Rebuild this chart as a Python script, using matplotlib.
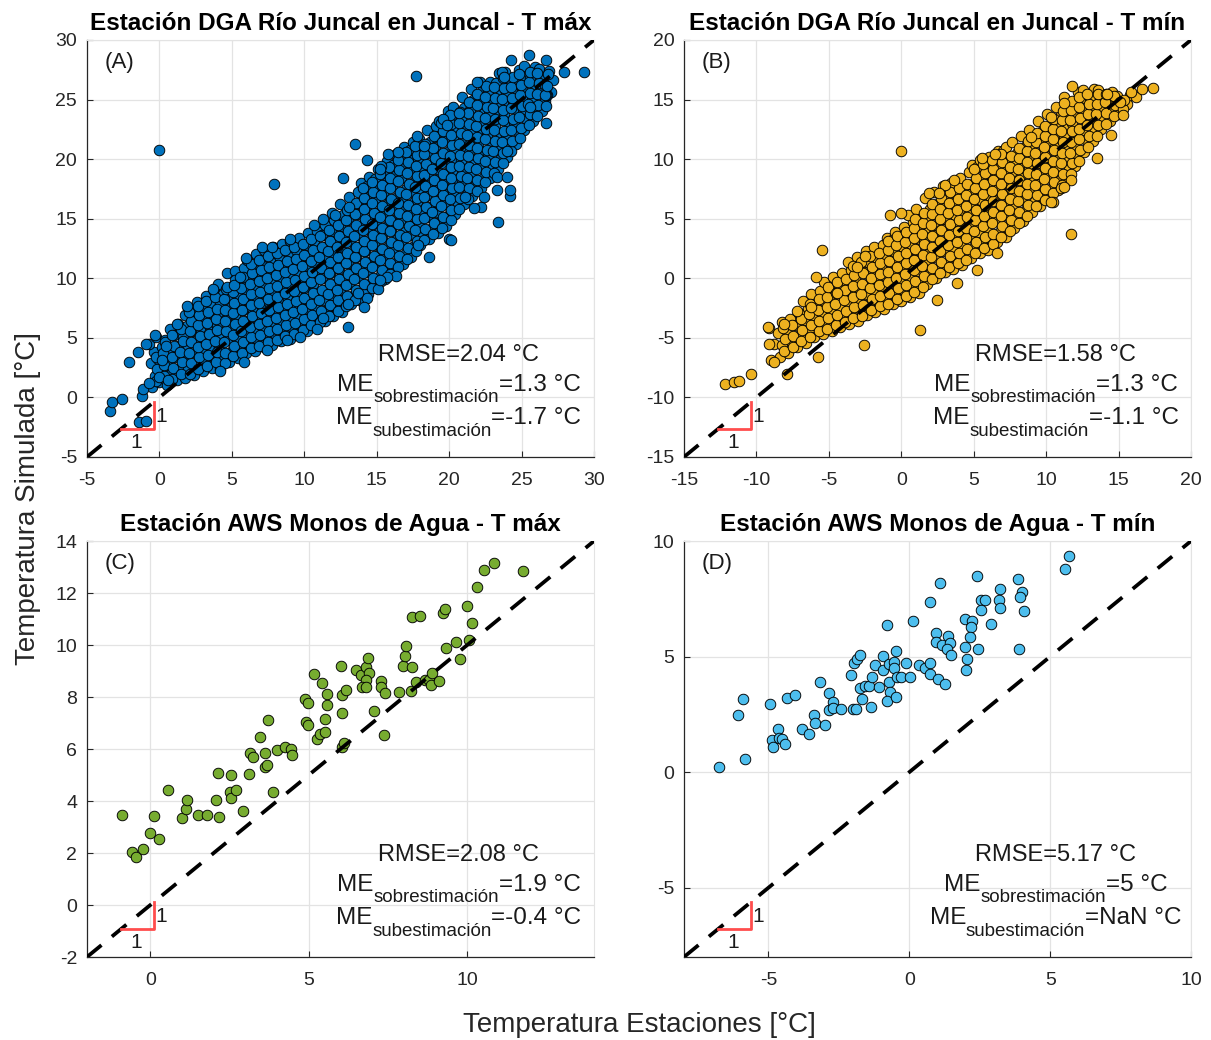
import matplotlib
matplotlib.use('Agg')
import matplotlib.pyplot as plt
from matplotlib.transforms import offset_copy

plt.rcParams['font.family'] = ['Liberation Sans', 'DejaVu Sans']
plt.rcParams['axes.unicode_minus'] = False

# ---- (A) DGA Juncal, T max: observado vs simulado ----
a_obs = [
    -0.5, -0.3, -0.6, -0.35, -0.7,
    0.0, 0.2, -0.1, 0.15, -0.2,
    0.6, 0.8, 0.5, 0.75, 0.4, 0.7,
    1.2, 1.4, 1.1, 1.35, 1.0, 1.3,
    1.8, 2.0, 1.7, 1.95, 1.6, 1.9, 1.75, 2.0,
    2.4, 2.6, 2.3, 2.55, 2.2, 2.5, 2.35, 2.6,
    3.0, 3.2, 2.9, 3.15, 2.8, 3.1, 2.95, 3.2,
    3.6, 3.8, 3.5, 3.75, 3.4, 3.7, 3.55, 3.8,
    4.2, 4.4, 4.1, 4.35, 4.0, 4.3, 4.15, 4.4, 4.05,
    4.8, 5.0, 4.7, 4.95, 4.6, 4.9, 4.75, 5.0, 4.65,
    5.4, 5.6, 5.3, 5.55, 5.2, 5.5, 5.35, 5.6, 5.25,
    6.0, 6.2, 5.9, 6.15, 5.8, 6.1, 5.95, 6.2, 5.85, 6.05,
    6.6, 6.8, 6.5, 6.75, 6.4, 6.7, 6.55, 6.8, 6.45, 6.65,
    7.2, 7.4, 7.1, 7.35, 7.0, 7.3, 7.15, 7.4, 7.05, 7.25,
    7.8, 8.0, 7.7, 7.95, 7.6, 7.9, 7.75, 8.0, 7.65, 7.85,
    8.4, 8.6, 8.3, 8.55, 8.2, 8.5, 8.35, 8.6, 8.25, 8.45,
    9.0, 9.2, 8.9, 9.15, 8.8, 9.1, 8.95, 9.2, 8.85, 9.05,
    9.6, 9.8, 9.5, 9.75, 9.4, 9.7, 9.55, 9.8, 9.45, 9.65,
    10.2, 10.4, 10.1, 10.35, 10.0, 10.3, 10.15, 10.4, 10.05, 10.25,
    10.8, 11.0, 10.7, 10.95, 10.6, 10.9, 10.75, 11.0, 10.65, 10.85, 10.7,
    11.4, 11.6, 11.3, 11.55, 11.2, 11.5, 11.35, 11.6, 11.25, 11.45, 11.3,
    12.0, 12.2, 11.9, 12.15, 11.8, 12.1, 11.95, 12.2, 11.85, 12.05, 11.9,
    12.6, 12.8, 12.5, 12.75, 12.4, 12.7, 12.55, 12.8, 12.45, 12.65, 12.5,
    13.2, 13.4, 13.1, 13.35, 13.0, 13.3, 13.15, 13.4, 13.05, 13.25, 13.1,
    13.8, 14.0, 13.7, 13.95, 13.6, 13.9, 13.75, 14.0, 13.65, 13.85, 13.7, 13.9,
    14.4, 14.6, 14.3, 14.55, 14.2, 14.5, 14.35, 14.6, 14.25, 14.45, 14.3, 14.5,
    15.0, 15.2, 14.9, 15.15, 14.8, 15.1, 14.95, 15.2, 14.85, 15.05, 14.9, 15.1,
    15.6, 15.8, 15.5, 15.75, 15.4, 15.7, 15.55, 15.8, 15.45, 15.65, 15.5, 15.7,
    16.2, 16.4, 16.1, 16.35, 16.0, 16.3, 16.15, 16.4, 16.05, 16.25, 16.1, 16.3,
    16.8, 17.0, 16.7, 16.95, 16.6, 16.9, 16.75, 17.0, 16.65, 16.85, 16.7, 16.9,
    17.4, 17.6, 17.3, 17.55, 17.2, 17.5, 17.35, 17.6, 17.25, 17.45, 17.3, 17.5,
    18.0, 18.2, 17.9, 18.15, 17.8, 18.1, 17.95, 18.2, 17.85, 18.05, 17.9,
    18.6, 18.8, 18.5, 18.75, 18.4, 18.7, 18.55, 18.8, 18.45, 18.65, 18.5,
    19.2, 19.4, 19.1, 19.35, 19.0, 19.3, 19.15, 19.4, 19.05, 19.25, 19.1, 19.3,
    19.8, 20.0, 19.7, 19.95, 19.6, 19.9, 19.75, 20.0, 19.65, 19.85, 19.7, 19.9,
    20.4, 20.6, 20.3, 20.55, 20.2, 20.5, 20.35, 20.6, 20.25, 20.45, 20.3,
    21.0, 21.2, 20.9, 21.15, 20.8, 21.1, 20.95, 21.2, 20.85, 21.05, 20.9,
    21.6, 21.8, 21.5, 21.75, 21.4, 21.7, 21.55, 21.8, 21.45, 21.65, 21.5,
    22.2, 22.4, 22.1, 22.35, 22.0, 22.3, 22.15, 22.4, 22.05, 22.25, 22.1,
    22.8, 23.0, 22.7, 22.95, 22.6, 22.9, 22.75, 23.0, 22.65, 22.85,
    23.4, 23.6, 23.3, 23.55, 23.2, 23.5, 23.35, 23.6, 23.25, 23.45,
    24.0, 24.2, 23.9, 24.15, 23.8, 24.1, 23.95, 24.2, 23.85,
    24.6, 24.8, 24.5, 24.75, 24.4, 24.7, 24.55, 24.8,
    25.2, 25.4, 25.1, 25.35, 25.0, 25.3, 25.15,
    25.8, 26.0, 25.7, 25.95, 25.6, 25.9,
    26.4, 26.6, 26.3, 26.55, 26.2,
    27.0, 27.2, 26.9,
    # columnas intermedias
    -0.2, -0.15, -0.25,
    0.3, 0.35, 0.25, 0.4,
    0.9, 0.95, 0.85, 1.0, 0.9,
    1.5, 1.55, 1.45, 1.6, 1.5,
    2.1, 2.15, 2.05, 2.2, 2.1, 2.15, 2.05,
    2.7, 2.75, 2.65, 2.8, 2.7, 2.75, 2.65,
    3.3, 3.35, 3.25, 3.4, 3.3, 3.35, 3.25,
    3.9, 3.95, 3.85, 4.0, 3.9, 3.95, 3.85,
    4.5, 4.55, 4.45, 4.6, 4.5, 4.55, 4.45, 4.6,
    5.1, 5.15, 5.05, 5.2, 5.1, 5.15, 5.05, 5.2,
    5.7, 5.75, 5.65, 5.8, 5.7, 5.75, 5.65, 5.8,
    6.3, 6.35, 6.25, 6.4, 6.3, 6.35, 6.25, 6.4, 6.3,
    6.9, 6.95, 6.85, 7.0, 6.9, 6.95, 6.85, 7.0, 6.9,
    7.5, 7.55, 7.45, 7.6, 7.5, 7.55, 7.45, 7.6, 7.5,
    8.1, 8.15, 8.05, 8.2, 8.1, 8.15, 8.05, 8.2, 8.1,
    8.7, 8.75, 8.65, 8.8, 8.7, 8.75, 8.65, 8.8, 8.7,
    9.3, 9.35, 9.25, 9.4, 9.3, 9.35, 9.25, 9.4, 9.3,
    9.9, 9.95, 9.85, 10.0, 9.9, 9.95, 9.85, 10.0, 9.9,
    10.5, 10.55, 10.45, 10.6, 10.5, 10.55, 10.45, 10.6, 10.5,
    11.1, 11.15, 11.05, 11.2, 11.1, 11.15, 11.05, 11.2, 11.1,
    11.7, 11.75, 11.65, 11.8, 11.7, 11.75, 11.65, 11.8, 11.7,
    12.3, 12.35, 12.25, 12.4, 12.3, 12.35, 12.25, 12.4, 12.3,
    12.9, 12.95, 12.85, 13.0, 12.9, 12.95, 12.85, 13.0, 12.9, 12.95,
    13.5, 13.55, 13.45, 13.6, 13.5, 13.55, 13.45, 13.6, 13.5, 13.55,
    14.1, 14.15, 14.05, 14.2, 14.1, 14.15, 14.05, 14.2, 14.1, 14.15, 14.05,
    14.7, 14.75, 14.65, 14.8, 14.7, 14.75, 14.65, 14.8, 14.7, 14.75, 14.65,
    15.3, 15.35, 15.25, 15.4, 15.3, 15.35, 15.25, 15.4, 15.3, 15.35, 15.25,
    15.9, 15.95, 15.85, 16.0, 15.9, 15.95, 15.85, 16.0, 15.9, 15.95, 15.85,
    16.5, 16.55, 16.45, 16.6, 16.5, 16.55, 16.45, 16.6, 16.5, 16.55, 16.45,
    17.1, 17.15, 17.05, 17.2, 17.1, 17.15, 17.05, 17.2, 17.1, 17.15, 17.05,
    17.7, 17.75, 17.65, 17.8, 17.7, 17.75, 17.65, 17.8, 17.7, 17.75, 17.65,
    18.3, 18.35, 18.25, 18.4, 18.3, 18.35, 18.25, 18.4, 18.3, 18.35,
    18.9, 18.95, 18.85, 19.0, 18.9, 18.95, 18.85, 19.0, 18.9, 18.95,
    19.5, 19.55, 19.45, 19.6, 19.5, 19.55, 19.45, 19.6, 19.5, 19.55, 19.45,
    20.1, 20.15, 20.05, 20.2, 20.1, 20.15, 20.05, 20.2, 20.1, 20.15, 20.05,
    20.7, 20.75, 20.65, 20.8, 20.7, 20.75, 20.65, 20.8, 20.7, 20.75,
    21.3, 21.35, 21.25, 21.4, 21.3, 21.35, 21.25, 21.4, 21.3, 21.35,
    21.9, 21.95, 21.85, 22.0, 21.9, 21.95, 21.85, 22.0, 21.9, 21.95,
    22.5, 22.55, 22.45, 22.6, 22.5, 22.55, 22.45, 22.6, 22.5, 22.55,
    23.1, 23.15, 23.05, 23.2, 23.1, 23.15, 23.05, 23.2, 23.1,
    23.7, 23.75, 23.65, 23.8, 23.7, 23.75, 23.65, 23.8, 23.7,
    24.3, 24.35, 24.25, 24.4, 24.3, 24.35, 24.25, 24.4,
    24.9, 24.95, 24.85, 25.0, 24.9, 24.95, 24.85,
    25.5, 25.55, 25.45, 25.6, 25.5, 25.55,
    26.1, 26.15, 26.05, 26.2, 26.1,
    26.7, 26.75, 26.65, 26.8,
    # puntos dispersos
    0.0, 7.9, 17.7, 13.5, 12.7, 23.35, 20.0, 29.3, 27.9, 26.7,
    24.2, 24.2, 23.3, 24.0, 23.3, 24.0, 25.5, 24.3, 26.7, 21.9,
    19.6, 17.8, 15.8, 16.5, 14.3, 15.3, 9.0, 7.1, 7.8, 26.7,
    -3.4, -3.3, -2.6, -1.4, -0.9, -1.2, -1.1, -0.7, -0.05, 0.5,
    0.6, -2.1, -1.5, -0.9, -0.3, 0.2, 0.45, 1.2, 1.9, 3.7,
    6.0, 4.2, 7.4, 10.9, 13.0, 15.1, 16.3, 18.6, 20.1,
    15.73, 14.31, 13.73, 13.04, 11.27, 17.87, 22.2, 15.23, 13.11, 12.12,
    4.66, 5.12, 5.58, 9.73, 8.8, 5.81, 15.25, 14.1, 18.24, 19.85,
    20.66, 23.65, 23.76, 22.4, 21.7, 21.1, 26.64, 26.75, 25.6,
]
a_sim = [
    0.9, 1.8, 2.9, 3.8, 4.5,
    1.3, 2.3, 3.2, 4.2, 5.1,
    1.1, 2.0, 2.9, 3.9, 4.8, 5.7,
    1.5, 2.5, 3.4, 4.3, 5.2, 6.2,
    1.6, 2.4, 3.3, 4.2, 5.1, 6.0, 6.9, 7.5,
    1.9, 2.9, 3.8, 4.7, 5.6, 6.5, 7.4, 8.0,
    2.2, 3.1, 4.0, 4.9, 5.8, 6.7, 7.6, 8.5,
    2.5, 3.4, 4.3, 5.2, 6.1, 7.0, 7.9, 8.9,
    2.4, 3.3, 4.2, 5.1, 6.0, 6.9, 7.8, 8.7, 9.5,
    3.0, 3.9, 4.8, 5.7, 6.6, 7.5, 8.4, 9.3, 10.4,
    3.3, 4.2, 5.1, 6.0, 6.9, 7.8, 8.7, 9.6, 10.6,
    3.7, 4.6, 5.5, 6.4, 7.3, 8.2, 9.1, 10.0, 10.9, 11.5,
    3.9, 4.8, 5.7, 6.6, 7.5, 8.4, 9.3, 10.2, 11.1, 12.0,
    4.2, 5.1, 6.0, 6.9, 7.8, 8.7, 9.6, 10.5, 11.4, 12.4,
    4.4, 5.3, 6.2, 7.1, 8.0, 8.9, 9.8, 10.7, 11.6, 12.6,
    4.7, 5.6, 6.5, 7.4, 8.3, 9.2, 10.1, 11.0, 11.9, 12.9,
    4.9, 5.8, 6.7, 7.6, 8.5, 9.4, 10.3, 11.2, 12.1, 13.1,
    5.2, 6.1, 7.0, 7.9, 8.8, 9.7, 10.6, 11.5, 12.4, 13.4,
    5.6, 6.5, 7.4, 8.3, 9.2, 10.1, 11.0, 11.9, 12.8, 13.8,
    5.9, 6.8, 7.7, 8.6, 9.5, 10.4, 11.3, 12.2, 13.1, 14.0, 14.5,
    6.4, 7.3, 8.2, 9.1, 10.0, 10.9, 11.8, 12.7, 13.6, 14.5, 15.0,
    6.8, 7.7, 8.6, 9.5, 10.4, 11.3, 12.2, 13.1, 14.0, 14.9, 15.5,
    7.2, 8.1, 9.0, 9.9, 10.8, 11.7, 12.6, 13.5, 14.4, 15.3, 16.2,
    7.8, 8.6, 9.5, 10.4, 11.3, 12.2, 13.1, 14.0, 14.9, 15.8, 16.8,
    8.2, 9.1, 10.0, 10.9, 11.8, 12.7, 13.6, 14.5, 15.4, 16.3, 17.2, 18.0,
    8.7, 9.6, 10.5, 11.4, 12.3, 13.2, 14.1, 15.0, 15.9, 16.8, 17.7, 18.5,
    9.3, 10.2, 11.1, 12.0, 12.9, 13.8, 14.7, 15.6, 16.5, 17.4, 18.3, 19.2,
    9.9, 10.8, 11.7, 12.6, 13.5, 14.4, 15.3, 16.2, 17.1, 18.0, 18.9, 19.8,
    10.5, 11.4, 12.3, 13.2, 14.1, 15.0, 15.9, 16.8, 17.7, 18.6, 19.5, 20.4,
    11.2, 12.1, 13.0, 13.9, 14.8, 15.7, 16.6, 17.5, 18.4, 19.3, 20.2, 21.0,
    11.8, 12.7, 13.6, 14.5, 15.4, 16.3, 17.2, 18.1, 19.0, 19.9, 20.8, 21.4,
    12.8, 13.7, 14.6, 15.5, 16.4, 17.3, 18.2, 19.1, 20.0, 20.9, 21.7,
    13.3, 14.2, 15.1, 16.0, 16.9, 17.8, 18.7, 19.6, 20.5, 21.4, 22.4,
    13.8, 14.7, 15.6, 16.5, 17.4, 18.3, 19.2, 20.1, 21.0, 21.9, 22.8, 23.2,
    14.4, 15.3, 16.2, 17.1, 18.0, 18.9, 19.8, 20.7, 21.6, 22.5, 23.4, 24.0,
    15.4, 16.3, 17.2, 18.1, 19.0, 19.9, 20.8, 21.7, 22.6, 23.5, 24.4,
    16.2, 17.1, 18.0, 18.9, 19.8, 20.7, 21.6, 22.5, 23.4, 24.3, 25.2,
    16.9, 17.8, 18.7, 19.6, 20.5, 21.4, 22.3, 23.2, 24.1, 25.0, 25.9,
    17.6, 18.5, 19.4, 20.3, 21.2, 22.1, 23.0, 23.9, 24.8, 25.7, 26.5,
    18.4, 19.3, 20.2, 21.1, 22.0, 22.9, 23.8, 24.7, 25.6, 26.5,
    19.2, 20.1, 21.0, 21.9, 22.8, 23.7, 24.6, 25.5, 26.4, 27.2,
    20.2, 21.1, 22.0, 22.9, 23.8, 24.7, 25.6, 26.5, 27.3,
    21.3, 22.2, 23.1, 24.0, 24.9, 25.8, 26.7, 27.5,
    22.4, 23.3, 24.2, 25.1, 26.0, 26.9, 27.8,
    23.2, 24.1, 25.0, 25.9, 26.8, 27.7,
    24.0, 24.9, 25.8, 26.7, 27.6,
    25.6, 26.6, 27.4,
    # columnas intermedias
    1.4, 2.4, 3.4,
    1.8, 2.75, 3.7, 4.65,
    1.55, 2.45, 3.4, 4.35, 5.25,
    2.0, 2.95, 3.85, 4.75, 5.7,
    2.0, 2.85, 3.75, 4.65, 5.55, 6.45, 7.2,
    2.4, 3.35, 4.25, 5.15, 6.05, 6.95, 7.7,
    2.65, 3.55, 4.45, 5.35, 6.25, 7.15, 8.05,
    2.95, 3.85, 4.75, 5.65, 6.55, 7.45, 8.4,
    2.85, 3.75, 4.65, 5.55, 6.45, 7.35, 8.25, 9.1,
    3.45, 4.35, 5.25, 6.15, 7.05, 7.95, 8.85, 9.85,
    3.75, 4.65, 5.55, 6.45, 7.35, 8.25, 9.15, 10.1,
    4.15, 5.05, 5.95, 6.85, 7.75, 8.65, 9.55, 10.45, 11.2,
    4.35, 5.25, 6.15, 7.05, 7.95, 8.85, 9.75, 10.65, 11.55,
    4.65, 5.55, 6.45, 7.35, 8.25, 9.15, 10.05, 10.95, 11.9,
    4.85, 5.75, 6.65, 7.55, 8.45, 9.35, 10.25, 11.15, 12.1,
    5.15, 6.05, 6.95, 7.85, 8.75, 9.65, 10.55, 11.45, 12.4,
    5.35, 6.25, 7.15, 8.05, 8.95, 9.85, 10.75, 11.65, 12.6,
    5.65, 6.55, 7.45, 8.35, 9.25, 10.15, 11.05, 11.95, 12.9,
    6.05, 6.95, 7.85, 8.75, 9.65, 10.55, 11.45, 12.35, 13.3,
    6.35, 7.25, 8.15, 9.05, 9.95, 10.85, 11.75, 12.65, 13.55,
    6.85, 7.75, 8.65, 9.55, 10.45, 11.35, 12.25, 13.15, 14.05,
    7.25, 8.15, 9.05, 9.95, 10.85, 11.75, 12.65, 13.55, 14.45,
    7.65, 8.55, 9.45, 10.35, 11.25, 12.15, 13.05, 13.95, 14.85, 15.75,
    8.2, 9.05, 9.95, 10.85, 11.75, 12.65, 13.55, 14.45, 15.35, 16.3,
    8.65, 9.55, 10.45, 11.35, 12.25, 13.15, 14.05, 14.95, 15.85, 16.75, 17.6,
    9.15, 10.05, 10.95, 11.85, 12.75, 13.65, 14.55, 15.45, 16.35, 17.25, 18.1,
    9.75, 10.65, 11.55, 12.45, 13.35, 14.25, 15.15, 16.05, 16.95, 17.85, 18.75,
    10.35, 11.25, 12.15, 13.05, 13.95, 14.85, 15.75, 16.65, 17.55, 18.45, 19.35,
    10.95, 11.85, 12.75, 13.65, 14.55, 15.45, 16.35, 17.25, 18.15, 19.05, 19.95,
    11.65, 12.55, 13.45, 14.35, 15.25, 16.15, 17.05, 17.95, 18.85, 19.75, 20.6,
    12.25, 13.15, 14.05, 14.95, 15.85, 16.75, 17.65, 18.55, 19.45, 20.35, 21.1,
    13.25, 14.15, 15.05, 15.95, 16.85, 17.75, 18.65, 19.55, 20.45, 21.3,
    13.75, 14.65, 15.55, 16.45, 17.35, 18.25, 19.15, 20.05, 20.95, 21.9,
    14.25, 15.15, 16.05, 16.95, 17.85, 18.75, 19.65, 20.55, 21.45, 22.35, 23.0,
    14.85, 15.75, 16.65, 17.55, 18.45, 19.35, 20.25, 21.15, 22.05, 22.95, 23.7,
    15.85, 16.75, 17.65, 18.55, 19.45, 20.35, 21.25, 22.15, 23.05, 23.95,
    16.65, 17.55, 18.45, 19.35, 20.25, 21.15, 22.05, 22.95, 23.85, 24.75,
    17.35, 18.25, 19.15, 20.05, 20.95, 21.85, 22.75, 23.65, 24.55, 25.45,
    18.05, 18.95, 19.85, 20.75, 21.65, 22.55, 23.45, 24.35, 25.25, 26.1,
    18.85, 19.75, 20.65, 21.55, 22.45, 23.35, 24.25, 25.15, 26.05,
    19.65, 20.55, 21.45, 22.35, 23.25, 24.15, 25.05, 25.95, 26.8,
    20.65, 21.55, 22.45, 23.35, 24.25, 25.15, 26.05, 26.9,
    21.75, 22.65, 23.55, 24.45, 25.35, 26.25, 27.1,
    22.85, 23.75, 24.65, 25.55, 26.45, 27.35,
    23.65, 24.55, 25.45, 26.35, 27.25,
    24.45, 25.35, 26.25, 27.15,
    20.8, 17.9, 27.0, 21.3, 18.4, 14.7, 13.3, 27.3, 27.3, 23.0,
    16.9, 17.4, 18.5, 18.5, 17.4, 20.7, 28.7, 28.3, 28.3, 26.5,
    23.4, 21.9, 20.4, 20.6, 19.9, 19.4, 13.3, 12.6, 12.6, 25.4,
    -1.1, -0.4, -0.1, -2.1, -2.0, 0.1, 0.7, 1.2, 1.7, 1.0,
    1.5, 3.0, 3.8, 4.5, 5.2, 3.1, 4.3, 6.2, 7.7, 9.1,
    11.7, 2.2, 4.0, 5.7, 5.9, 9.1, 10.2, 11.8, 13.2,
    10.13, 8.37, 8.74, 7.84, 6.64, 12.79, 15.96, 19.2, 16.0, 15.31,
    9.29, 9.43, 10.13, 5.1, 4.8, 3.0, 9.85, 7.6, 21.1, 22.9,
    23.84, 27.3, 26.9, 16.85, 15.9, 16.85, 25.4, 26.1, 24.4,
]

# ---- (B) DGA Juncal, T min ----
b_obs = [
    -9.0, -8.8, -9.1,
    -8.4, -8.2, -8.5, -8.25,
    -7.8, -7.6, -7.9, -7.65,
    -7.2, -7.0, -7.3, -7.05,
    -6.6, -6.4, -6.7, -6.45, -6.8,
    -6.0, -5.8, -6.1, -5.85, -6.2,
    -5.4, -5.2, -5.5, -5.25, -5.6, -5.3,
    -4.8, -4.6, -4.9, -4.65, -5.0, -4.7,
    -4.2, -4.0, -4.3, -4.05, -4.4, -4.1,
    -3.6, -3.4, -3.7, -3.45, -3.8, -3.5, -3.65,
    -3.0, -2.8, -3.1, -2.85, -3.2, -2.9, -3.05,
    -2.4, -2.2, -2.5, -2.25, -2.6, -2.3, -2.45,
    -1.8, -1.6, -1.9, -1.65, -2.0, -1.7, -1.85,
    -1.2, -1.0, -1.3, -1.05, -1.4, -1.1, -1.25, -1.0,
    -0.6, -0.4, -0.7, -0.45, -0.8, -0.5, -0.65, -0.4,
    0.0, 0.2, -0.1, 0.15, -0.2, 0.1, -0.05, 0.2,
    0.6, 0.8, 0.5, 0.75, 0.4, 0.7, 0.55, 0.8, 0.45,
    1.2, 1.4, 1.1, 1.35, 1.0, 1.3, 1.15, 1.4, 1.05,
    1.8, 2.0, 1.7, 1.95, 1.6, 1.9, 1.75, 2.0, 1.65,
    2.4, 2.6, 2.3, 2.55, 2.2, 2.5, 2.35, 2.6, 2.25,
    3.0, 3.2, 2.9, 3.15, 2.8, 3.1, 2.95, 3.2, 2.85,
    3.6, 3.8, 3.5, 3.75, 3.4, 3.7, 3.55, 3.8, 3.45,
    4.2, 4.4, 4.1, 4.35, 4.0, 4.3, 4.15, 4.4, 4.05,
    4.8, 5.0, 4.7, 4.95, 4.6, 4.9, 4.75, 5.0, 4.65, 4.85,
    5.4, 5.6, 5.3, 5.55, 5.2, 5.5, 5.35, 5.6, 5.25, 5.45,
    6.0, 6.2, 5.9, 6.15, 5.8, 6.1, 5.95, 6.2, 5.85, 6.05,
    6.6, 6.8, 6.5, 6.75, 6.4, 6.7, 6.55, 6.8, 6.45, 6.65,
    7.2, 7.4, 7.1, 7.35, 7.0, 7.3, 7.15, 7.4, 7.05, 7.25,
    7.8, 8.0, 7.7, 7.95, 7.6, 7.9, 7.75, 8.0, 7.65,
    8.4, 8.6, 8.3, 8.55, 8.2, 8.5, 8.35, 8.6, 8.25,
    9.0, 9.2, 8.9, 9.15, 8.8, 9.1, 8.95, 9.2, 8.85,
    9.6, 9.8, 9.5, 9.75, 9.4, 9.7, 9.55, 9.8, 9.45,
    10.2, 10.4, 10.1, 10.35, 10.0, 10.3, 10.15, 10.4, 10.05,
    10.8, 11.0, 10.7, 10.95, 10.6, 10.9, 10.75, 11.0, 10.65,
    11.4, 11.6, 11.3, 11.55, 11.2, 11.5, 11.35, 11.6, 11.25,
    12.0, 12.2, 11.9, 12.15, 11.8, 12.1, 11.95, 12.2,
    12.6, 12.8, 12.5, 12.75, 12.4, 12.7, 12.55,
    13.2, 13.4, 13.1, 13.35, 13.0, 13.3,
    13.8, 14.0, 13.7, 13.95, 13.6,
    14.4, 14.6, 14.3, 14.55,
    15.0, 15.2, 14.9,
    15.6, 15.8,
    16.2,
    # columnas intermedias
    -8.1, -8.05, -8.15,
    -7.5, -7.45, -7.55,
    -6.9, -6.85, -6.95,
    -6.3, -6.25, -6.35, -6.3,
    -5.7, -5.65, -5.75, -5.7,
    -5.1, -5.05, -5.15, -5.1, -5.05,
    -4.5, -4.45, -4.55, -4.5, -4.45,
    -3.9, -3.85, -3.95, -3.9, -3.85,
    -3.3, -3.25, -3.35, -3.3, -3.25, -3.35,
    -2.7, -2.65, -2.75, -2.7, -2.65, -2.75,
    -2.1, -2.05, -2.15, -2.1, -2.05, -2.15,
    -1.5, -1.45, -1.55, -1.5, -1.45, -1.55,
    -0.9, -0.85, -0.95, -0.9, -0.85, -0.95, -0.9,
    -0.3, -0.25, -0.35, -0.3, -0.25, -0.35, -0.3,
    0.3, 0.35, 0.25, 0.3, 0.35, 0.25, 0.3,
    0.9, 0.95, 0.85, 0.9, 0.95, 0.85, 0.9, 0.95,
    1.5, 1.55, 1.45, 1.5, 1.55, 1.45, 1.5, 1.55,
    2.1, 2.15, 2.05, 2.1, 2.15, 2.05, 2.1, 2.15,
    2.7, 2.75, 2.65, 2.7, 2.75, 2.65, 2.7, 2.75,
    3.3, 3.35, 3.25, 3.3, 3.35, 3.25, 3.3, 3.35,
    3.9, 3.95, 3.85, 3.9, 3.95, 3.85, 3.9, 3.95,
    4.5, 4.55, 4.45, 4.5, 4.55, 4.45, 4.5, 4.55,
    5.1, 5.15, 5.05, 5.1, 5.15, 5.05, 5.1, 5.15, 5.05,
    5.7, 5.75, 5.65, 5.7, 5.75, 5.65, 5.7, 5.75, 5.65,
    6.3, 6.35, 6.25, 6.3, 6.35, 6.25, 6.3, 6.35, 6.25,
    6.9, 6.95, 6.85, 6.9, 6.95, 6.85, 6.9, 6.95, 6.85,
    7.5, 7.55, 7.45, 7.5, 7.55, 7.45, 7.5, 7.55,
    8.1, 8.15, 8.05, 8.1, 8.15, 8.05, 8.1, 8.15,
    8.7, 8.75, 8.65, 8.7, 8.75, 8.65, 8.7, 8.75,
    9.3, 9.35, 9.25, 9.3, 9.35, 9.25, 9.3, 9.35,
    9.9, 9.95, 9.85, 9.9, 9.95, 9.85, 9.9, 9.95,
    10.5, 10.55, 10.45, 10.5, 10.55, 10.45, 10.5, 10.55,
    11.1, 11.15, 11.05, 11.1, 11.15, 11.05, 11.1, 11.15,
    11.7, 11.75, 11.65, 11.7, 11.75, 11.65, 11.7, 11.75,
    12.3, 12.35, 12.25, 12.3, 12.35, 12.25, 12.3,
    12.9, 12.95, 12.85, 12.9, 12.95, 12.85,
    13.5, 13.55, 13.45, 13.5, 13.55,
    14.1, 14.15, 14.05, 14.1,
    14.7, 14.75, 14.65,
    15.3, 15.35,
    # puntos dispersos
    0.0, 11.7, 13.5, 17.4, 16.6, -5.5, -0.8, 0.0, 6.5, 11.8,
    3.0, -12.2, -11.55, -11.2, -10.4, -5.9, -9.2, -9.1, -8.8, -7.9,
    -7.2, -5.75, 1.3, -2.6, -2.5, 14.45, 15.1, 15.3, 10.5,
    10.31, 11.0, 11.7, 11.23, 1.91, 2.6, 3.64, 5.59, 8.93, 10.31,
    11.23, 14.2, 15.83, -8.1, -6.26, -4.42, -3.03, 2.49, 3.87, 5.25,
    6.63,
]
b_sim = [
    -6.9, -5.5, -4.2,
    -6.6, -5.6, -4.6, -3.7,
    -6.3, -5.3, -4.4, -3.4,
    -5.8, -4.8, -3.9, -2.9,
    -5.4, -4.4, -3.5, -2.5, -1.9,
    -4.9, -4.0, -3.1, -2.2, -1.3,
    -4.7, -3.8, -2.9, -2.0, -1.1, -0.3,
    -4.4, -3.5, -2.6, -1.7, -0.8, 0.1,
    -4.1, -3.2, -2.3, -1.4, -0.5, 0.4,
    -3.8, -2.9, -2.0, -1.1, -0.2, 0.7, 1.4,
    -3.6, -2.7, -1.8, -0.9, 0.0, 0.9, 1.8,
    -3.1, -2.2, -1.3, -0.4, 0.5, 1.4, 2.3,
    -2.8, -1.9, -1.0, -0.1, 0.8, 1.7, 2.6,
    -2.6, -1.7, -0.8, 0.1, 1.0, 1.9, 2.8, 3.4,
    -2.2, -1.3, -0.4, 0.5, 1.4, 2.3, 3.2, 3.9,
    -1.9, -1.0, -0.1, 0.8, 1.7, 2.6, 3.5, 4.3,
    -1.6, -0.7, 0.2, 1.1, 2.0, 2.9, 3.8, 4.7, 5.3,
    -1.2, -0.3, 0.6, 1.5, 2.4, 3.3, 4.2, 5.1, 5.8,
    -0.5, 0.4, 1.3, 2.2, 3.1, 4.0, 4.9, 5.8, 6.7,
    0.0, 0.9, 1.8, 2.7, 3.6, 4.5, 5.4, 6.3, 7.2,
    0.5, 1.4, 2.3, 3.2, 4.1, 5.0, 5.9, 6.8, 7.7,
    0.8, 1.7, 2.6, 3.5, 4.4, 5.3, 6.2, 7.1, 8.0,
    1.1, 2.0, 2.9, 3.8, 4.7, 5.6, 6.5, 7.4, 8.4,
    1.7, 2.6, 3.5, 4.4, 5.3, 6.2, 7.1, 8.0, 8.9, 9.5,
    2.1, 3.0, 3.9, 4.8, 5.7, 6.6, 7.5, 8.4, 9.3, 9.9,
    2.4, 3.3, 4.2, 5.1, 6.0, 6.9, 7.8, 8.7, 9.6, 10.2,
    3.0, 3.9, 4.8, 5.7, 6.6, 7.5, 8.4, 9.3, 10.2, 10.7,
    3.5, 4.4, 5.3, 6.2, 7.1, 8.0, 8.9, 9.8, 10.7, 11.0,
    4.2, 5.1, 6.0, 6.9, 7.8, 8.7, 9.6, 10.5, 11.4,
    4.8, 5.7, 6.6, 7.5, 8.4, 9.3, 10.2, 11.1, 11.9,
    5.6, 6.5, 7.4, 8.3, 9.2, 10.1, 11.0, 11.9, 12.4,
    6.1, 7.0, 7.9, 8.8, 9.7, 10.6, 11.5, 12.4, 13.2,
    6.7, 7.6, 8.5, 9.4, 10.3, 11.2, 12.1, 13.0, 13.8,
    7.4, 8.3, 9.2, 10.1, 11.0, 11.9, 12.8, 13.7, 14.4,
    8.3, 9.2, 10.1, 11.0, 11.9, 12.8, 13.7, 14.6, 15.2,
    9.4, 10.3, 11.2, 12.1, 13.0, 13.9, 14.8, 15.6,
    10.6, 11.5, 12.4, 13.3, 14.2, 15.1, 15.8,
    11.5, 12.4, 13.3, 14.2, 15.1, 15.9,
    12.5, 13.4, 14.3, 15.2, 15.8,
    13.2, 14.1, 15.0, 15.6,
    13.8, 14.6, 15.3,
    14.6, 15.4,
    15.2,
    # columnas intermedias
    -6.1, -5.1, -4.15,
    -5.8, -4.85, -3.9,
    -5.3, -4.35, -3.4,
    -4.9, -3.95, -3.0, -2.2,
    -4.45, -3.55, -2.65, -1.75,
    -4.25, -3.35, -2.45, -1.55, -0.7,
    -3.95, -3.05, -2.15, -1.25, -0.35,
    -3.65, -2.75, -1.85, -0.95, -0.05,
    -3.35, -2.45, -1.55, -0.65, 0.25, 1.05,
    -3.15, -2.25, -1.35, -0.45, 0.45, 1.35,
    -2.65, -1.75, -0.85, 0.05, 0.95, 1.85,
    -2.35, -1.45, -0.55, 0.35, 1.25, 2.15,
    -2.15, -1.25, -0.35, 0.55, 1.45, 2.35, 3.1,
    -1.75, -0.85, 0.05, 0.95, 1.85, 2.75, 3.55,
    -1.45, -0.55, 0.35, 1.25, 2.15, 3.05, 3.9,
    -1.15, -0.25, 0.65, 1.55, 2.45, 3.35, 4.25, 5.0,
    -0.75, 0.15, 1.05, 1.95, 2.85, 3.75, 4.65, 5.45,
    -0.05, 0.85, 1.75, 2.65, 3.55, 4.45, 5.35, 6.25,
    0.45, 1.35, 2.25, 3.15, 4.05, 4.95, 5.85, 6.75,
    0.95, 1.85, 2.75, 3.65, 4.55, 5.45, 6.35, 7.25,
    1.25, 2.15, 3.05, 3.95, 4.85, 5.75, 6.65, 7.55,
    1.55, 2.45, 3.35, 4.25, 5.15, 6.05, 6.95, 7.9,
    2.15, 3.05, 3.95, 4.85, 5.75, 6.65, 7.55, 8.45, 9.2,
    2.55, 3.45, 4.35, 5.25, 6.15, 7.05, 7.95, 8.85, 9.6,
    2.85, 3.75, 4.65, 5.55, 6.45, 7.35, 8.25, 9.15, 9.9,
    3.45, 4.35, 5.25, 6.15, 7.05, 7.95, 8.85, 9.75, 10.45,
    3.95, 4.85, 5.75, 6.65, 7.55, 8.45, 9.35, 10.25,
    4.65, 5.55, 6.45, 7.35, 8.25, 9.15, 10.05, 10.95,
    5.25, 6.15, 7.05, 7.95, 8.85, 9.75, 10.65, 11.5,
    6.05, 6.95, 7.85, 8.75, 9.65, 10.55, 11.45, 12.15,
    6.55, 7.45, 8.35, 9.25, 10.15, 11.05, 11.95, 12.8,
    7.15, 8.05, 8.95, 9.85, 10.75, 11.65, 12.55, 13.4,
    7.85, 8.75, 9.65, 10.55, 11.45, 12.35, 13.25, 14.05,
    8.75, 9.65, 10.55, 11.45, 12.35, 13.25, 14.15, 14.9,
    9.85, 10.75, 11.65, 12.55, 13.45, 14.35, 15.2,
    11.05, 11.95, 12.85, 13.75, 14.65, 15.45,
    11.95, 12.85, 13.75, 14.65, 15.5,
    12.95, 13.85, 14.75, 15.5,
    13.65, 14.55, 15.3,
    14.2, 14.95,
    10.7, 3.7, 10.1, 16.0, 15.9, 2.4, 5.3, 5.5, 10.4, 16.1,
    7.8, -8.9, -8.7, -8.6, -8.0, 0.1, -4.1, -5.5, -7.0, -8.0,
    -2.75, -6.6, -4.35, -5.6, 1.9, 12.0, 14.8, 13.7, 6.4,
    6.43, 7.55, 8.25, 7.69, 7.13, 7.13, 8.25, 10.07, 11.89, 13.56,
    14.68, 15.5, 15.66, -3.8, -2.39, -1.27, 0.97, -1.83, -0.43, 0.69,
    2.09,
]

# ---- (C) AWS Monos de Agua, T max ----
c_obs = [
    -0.89, -0.58, -0.44, -0.24, 0.13, 0.00, 0.27, 0.55, 1.01, 1.13,
    1.15, 1.49, 1.78, 2.18, 2.08, 2.15, 2.50, 2.54, 2.56, 2.69,
    2.91, 3.11, 3.13, 3.23, 3.46, 3.63, 3.68, 3.63, 3.70, 3.88,
    3.99, 4.25, 4.43, 4.48, 4.89, 4.99, 4.91, 4.97, 5.17, 5.27,
    5.34, 5.42, 5.56, 5.56, 5.50, 5.52, 6.01, 6.06, 6.19, 6.05,
    6.04, 6.12, 6.48, 6.66, 6.80, 6.88, 6.90, 6.82, 6.67, 6.80,
    7.05, 7.29, 7.27, 7.40, 7.37, 7.85, 7.97, 8.03, 8.08, 8.26,
    8.26, 8.50, 8.21, 8.39, 8.66, 8.79, 8.89, 8.87, 9.11, 9.23,
    9.31, 9.34, 9.65, 9.76, 9.99, 10.05, 10.16, 10.30, 10.52, 10.85,
    11.77,
]
c_sim = [
    3.48, 2.04, 1.86, 2.14, 3.44, 2.78, 2.55, 4.41, 3.34, 3.69,
    4.03, 3.45, 3.45, 3.39, 4.05, 5.07, 4.34, 4.13, 5.01, 4.41,
    3.63, 5.02, 5.83, 5.69, 6.47, 5.32, 5.38, 5.83, 7.10, 4.33,
    5.96, 6.06, 5.99, 5.77, 7.91, 7.77, 7.04, 6.92, 8.87, 6.39,
    6.57, 8.54, 8.10, 7.69, 7.17, 6.66, 9.18, 8.09, 8.28, 7.38,
    6.09, 6.25, 9.02, 8.83, 9.15, 9.50, 8.94, 8.64, 8.38, 8.38,
    7.45, 8.61, 8.38, 8.15, 6.54, 8.18, 9.20, 9.59, 9.97, 9.17,
    11.06, 11.12, 8.25, 8.57, 8.66, 8.64, 8.92, 8.45, 8.61, 11.25,
    11.38, 9.89, 10.10, 9.46, 11.50, 10.19, 10.83, 12.25, 12.89, 13.17,
    12.85,
]

# ---- (D) AWS Monos de Agua, T min ----
d_obs = [
    -6.76, -5.82, -6.09, -5.91, -4.94, -4.87, -4.85, -4.66, -4.64, -4.52,
    -4.40, -4.33, -4.05, -3.81, -3.55, -3.39, -3.34, -3.01, -3.16, -2.85,
    -2.71, -2.86, -2.71, -2.41, -2.07, -1.95, -1.86, -1.76, -2.00, -1.88,
    -1.76, -1.68, -1.58, -1.44, -1.34, -1.35, -1.22, -1.06, -0.92, -0.92,
    -0.78, -0.71, -0.73, -0.68, -0.78, -0.53, -0.53, -0.47, -0.49, -0.44,
    -0.31, -0.13, 0.04, 0.13, 0.34, 0.54, 0.72, 0.72, 0.72, 1.01,
    1.25, 0.94, 0.94, 1.08, 1.15, 1.39, 1.44, 1.35, 1.49, 1.96,
    2.24, 2.20, 2.15, 1.98, 2.06, 2.02, 2.45, 2.39, 2.55, 2.67,
    2.56, 2.89, 3.21, 3.20, 3.22, 3.85, 4.00, 3.94, 4.08, 3.91,
    5.54, 5.67,
]
d_sim = [
    0.24, 0.56, 2.49, 3.18, 2.96, 1.37, 1.08, 1.86, 1.48, 1.42,
    1.21, 3.22, 3.34, 1.87, 1.65, 2.45, 2.12, 2.03, 3.90, 3.44,
    3.05, 2.69, 2.79, 2.75, 4.19, 4.73, 4.91, 5.08, 2.72, 2.75,
    3.65, 3.17, 3.74, 3.73, 4.12, 2.81, 4.62, 3.70, 5.04, 4.40,
    6.35, 4.66, 3.88, 3.47, 3.06, 4.76, 4.52, 5.24, 3.27, 4.12,
    4.10, 4.73, 4.12, 6.55, 4.62, 4.50, 4.73, 4.24, 7.37, 4.04,
    3.81, 6.04, 5.65, 8.20, 5.48, 5.91, 5.60, 5.32, 5.06, 6.63,
    6.52, 6.26, 5.86, 5.40, 4.88, 4.42, 5.32, 8.49, 7.44, 7.44,
    7.01, 6.39, 7.94, 7.44, 7.08, 8.35, 7.80, 7.58, 6.96, 5.34,
    8.81, 9.34,
]

titles = ['Estación DGA Río Juncal en Juncal - T máx',
          'Estación DGA Río Juncal en Juncal - T mín',
          'Estación AWS Monos de Agua - T máx',
          'Estación AWS Monos de Agua - T mín']
tags = ['(A)', '(B)', '(C)', '(D)']
lims = [(-5, 30), (-15, 20), (-2, 14), (-8, 10)]
xticks = [range(-5, 31, 5), range(-15, 21, 5), [0, 5, 10], [-5, 0, 5, 10]]
yticks = [range(-5, 31, 5), range(-15, 21, 5), range(-2, 15, 2), [-5, 0, 5, 10]]
colors = ['#0072BD', '#EDB120', '#77AC30', '#4DBEEE']
rmse = ['2.04', '1.58', '2.08', '5.17']
me_sobre = ['1.3', '1.3', '1.9', '5']
me_sub = ['-1.7', '-1.1', '-0.4', 'NaN']

obs = [a_obs, b_obs, c_obs, d_obs]
sim = [a_sim, b_sim, c_sim, d_sim]

fig = plt.figure(figsize=(12.11, 10.40), dpi=100)
renderer = fig.canvas.get_renderer()
pos = [[0.0718, 0.5606, 0.4187, 0.401], [0.5648, 0.5606, 0.4187, 0.401],
       [0.0718, 0.0798, 0.4187, 0.400], [0.5648, 0.0798, 0.4187, 0.400]]
dark = '#262626'
txt = '#1a1a1a'


def me_line(ax, y, sub, val):
    # "ME" + subindice grande al estilo MATLAB + "=valor °C", centrado
    parts = [('ME', 17.5, 0), (sub, 13.5, -11.5), ('=' + val + ' °C', 17.5, 0)]
    items = []
    for s, fs, dy in parts:
        t = ax.text(0.733, y, s, transform=ax.transAxes, fontsize=fs,
                    ha='left', va='baseline', color=txt)
        items.append((t, t.get_window_extent(renderer).width, dy))
    x0 = -sum(w for _, w, _ in items) / 2
    for t, w, dy in items:
        t.set_transform(offset_copy(ax.transAxes, fig=fig, x=x0, y=dy,
                                    units='dots'))
        x0 += w


for i in range(4):
    ax = fig.add_axes(pos[i])
    lo, hi = lims[i]
    ax.set_xlim(lo, hi)
    ax.set_ylim(lo, hi)
    ax.set_xticks(list(xticks[i]))
    ax.set_yticks(list(yticks[i]))
    ax.grid(True, color='#e3e3e3', lw=0.9)
    ax.set_axisbelow(True)
    for s in ['top', 'right']:
        ax.spines[s].set_color('#e3e3e3')
    for s in ['left', 'bottom']:
        ax.spines[s].set_color(dark)
        ax.spines[s].set_linewidth(0.9)
    ax.tick_params(direction='in', length=4, color=dark, labelcolor=dark,
                   labelsize=14)
    ax.tick_params(axis='x', pad=11)
    ax.tick_params(axis='y', pad=7)

    ax.scatter(obs[i], sim[i], s=58, c=colors[i], edgecolors='k',
               linewidths=0.65, zorder=2)
    ax.plot([lo, hi], [lo, hi], color='k', lw=2.7, dashes=(5, 3.6), zorder=3)

    # triangulo 1:1
    ax.plot([0.067, 0.133, 0.133], [0.067, 0.067, 0.133], color='#ff4d4d',
            lw=2, transform=ax.transAxes, zorder=4)
    ax.text(0.097, 0.034, '1', transform=ax.transAxes, fontsize=15,
            ha='center', va='center', color=txt)
    ax.text(0.147, 0.098, '1', transform=ax.transAxes, fontsize=15,
            ha='center', va='center', color=txt)

    ax.text(0.034, 0.945, tags[i], transform=ax.transAxes, fontsize=16,
            ha='left', va='center', color=txt)

    ax.text(0.733, 0.231, 'RMSE=' + rmse[i] + ' °C', transform=ax.transAxes,
            fontsize=17, ha='center', va='baseline', color=txt)
    me_line(ax, 0.159, 'sobrestimación', me_sobre[i])
    me_line(ax, 0.079, 'subestimación', me_sub[i])

    ax.set_title(titles[i], fontsize=17.5, fontweight='bold', pad=7)

fig.text(0.528, 0.014, 'Temperatura Estaciones [°C]', fontsize=20,
         ha='center', va='center', color=dark)
fig.text(0.023, 0.521, 'Temperatura Simulada [°C]', fontsize=20,
         ha='center', va='center', rotation=90, color=dark)

fig.savefig('out.png', dpi=100)
